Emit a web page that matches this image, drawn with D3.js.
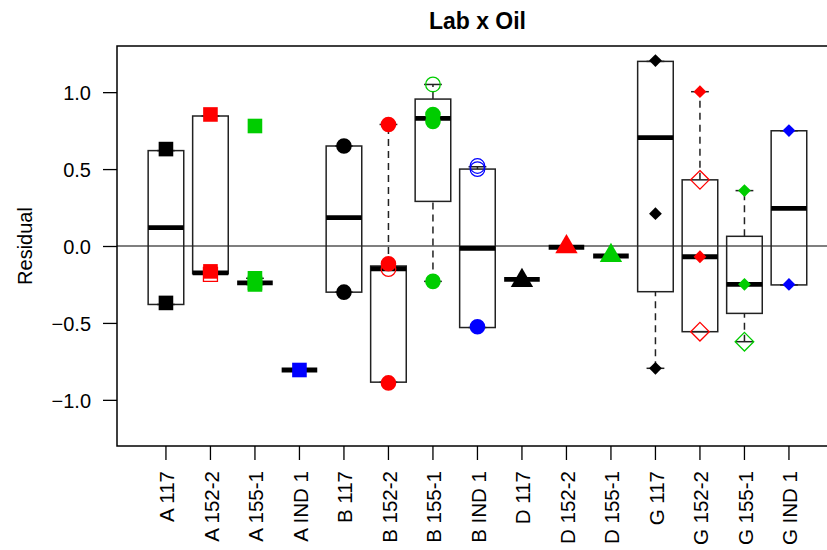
<!DOCTYPE html>
<html>
<head>
<meta charset="utf-8">
<script src="https://cdn.jsdelivr.net/npm/d3@7"></script>
<style>
  body { margin: 0; background: #fff; }
  svg { display: block; }
  text { font-family: "Liberation Sans", Arial, sans-serif; fill: #000; }
</style>
</head>
<body>
<svg id="chart" width="827" height="550"></svg>
<script>
// Lab x Oil residuals: one box per lab/oil combination, with the residuals on top.
const categories = ["A 117", "A 152-2", "A 155-1", "A IND 1",
                    "B 117", "B 152-2", "B 155-1", "B IND 1",
                    "D 117", "D 152-2", "D 155-1",
                    "G 117", "G 152-2", "G 155-1", "G IND 1"];

// Box statistics per category
const whiskerLow  = [-0.38, -0.18, -0.25, -0.806, -0.30, -0.885, -0.23, -0.53, -0.217, -0.008, -0.065, -0.795, -0.557, -0.622, -0.253];
const boxLow      = [-0.38, -0.18, -0.24, -0.806, -0.30, -0.885,  0.29, -0.53, -0.217, -0.008, -0.065, -0.297, -0.557, -0.438, -0.253];
const medians     = [ 0.12, -0.175,-0.24, -0.806,  0.185,-0.148,  0.83, -0.015,-0.217, -0.008, -0.065,  0.705, -0.07,  -0.249,  0.245];
const boxHigh     = [ 0.62,  0.845,-0.24, -0.806,  0.65, -0.13,   0.955, 0.50, -0.217, -0.008, -0.065,  1.20,   0.43,   0.063,  0.749];
const whiskerHigh = [ 0.62,  0.845,-0.21, -0.806,  0.65,  0.79,   1.05,  0.515,-0.217, -0.008, -0.065,  1.20,   1.003,  0.36,   0.749];

// Residuals drawn with filled symbols
const filledPoints = [
  [0.63, -0.37],
  [0.855, -0.165],
  [0.78, -0.21, -0.24, -0.25],
  [-0.806],
  [0.65, -0.30],
  [0.79, -0.115, -0.89],
  [0.855, 0.81, -0.23],
  [-0.525],
  [-0.225],
  [-0.006],
  [-0.062],
  [1.205, 0.21, -0.795],
  [1.003, -0.07],
  [0.36, -0.249],
  [0.75, -0.25]
];
// Residuals drawn with open symbols
const openPoints = [
  [], [-0.185], [], [],
  [], [-0.15], [1.05], [0.52, 0.50],
  [], [], [],
  [], [0.43, -0.557], [-0.622], []
];

const yTicks = [-1.0, -0.5, 0.0, 0.5, 1.0];
const labShapes = { A: "square", B: "circle", D: "triangle", G: "diamond" };
const oilColors = { "117": "#000000", "152-2": "#FF0000", "155-1": "#00CD00", "IND 1": "#0000FF" };

const svg = d3.select("#chart");
const plotLeft = 117, plotTop = 46, plotBottom = 446;
const unit = 44.5;
const plotRight = plotLeft + 16.2 * unit;

const x = d3.scaleBand().domain(categories)
  .range([plotLeft + 0.6 * unit, plotLeft + 15.6 * unit]).padding(0);
const y = d3.scaleLinear().domain([-1.3, 1.3]).range([plotBottom, plotTop]);
const cx = c => x(c) + x.bandwidth() / 2;
const boxW = 0.8 * x.bandwidth();
const stapleW = 0.5 * boxW;

// symbol shapes; "size" is used directly as a radius-like measure
const shapes = {
  square:   { draw(ctx, s) { ctx.rect(-s, -s, 2 * s, 2 * s); } },
  circle:   { draw(ctx, s) { ctx.moveTo(s, 0); ctx.arc(0, 0, s, 0, 2 * Math.PI); } },
  triangle: { draw(ctx, s) { const b = s / 2, h = Math.sqrt(3) * b;
              ctx.moveTo(0, -s); ctx.lineTo(h, b); ctx.lineTo(-h, b); ctx.closePath(); } },
  diamond:  { draw(ctx, s) { ctx.moveTo(0, -s); ctx.lineTo(s, 0); ctx.lineTo(0, s); ctx.lineTo(-s, 0); ctx.closePath(); } }
};
const filledSize = { square: 7.3, circle: 7.8, triangle: 12.9, diamond: 6.4 };
const openSize   = { square: 7.0, circle: 7.3, triangle: 12.0, diamond: 9.3 };

const lab = c => c.split(" ")[0];
const oil = c => c.slice(c.indexOf(" ") + 1);

// title
svg.append("text")
  .attr("x", (plotLeft + plotRight) / 2).attr("y", 29)
  .attr("text-anchor", "middle")
  .style("font-size", "23px").style("font-weight", "bold")
  .text("Lab x Oil");

// y axis
const yAxis = d3.axisLeft(y).tickValues(yTicks).tickFormat(d3.format(".1f"))
  .tickSize(14).tickPadding(12);
const gy = svg.append("g").attr("transform", `translate(${plotLeft},0)`).call(yAxis);
gy.select(".domain").remove();
gy.selectAll(".tick line").attr("stroke", "#000").attr("stroke-width", 1.3);
gy.selectAll(".tick text").style("font-size", "20px").attr("fill", "#000")
  .attr("dy", "0.36em");

svg.append("text")
  .attr("transform", `translate(32,${(plotTop + plotBottom) / 2}) rotate(-90)`)
  .attr("text-anchor", "middle")
  .style("font-size", "20px")
  .text("Residual");

// x axis
const xAxis = d3.axisBottom(x).tickSize(14).tickPadding(0);
const gx = svg.append("g").attr("transform", `translate(0,${plotBottom})`).call(xAxis);
gx.select(".domain").remove();
gx.selectAll(".tick line").attr("stroke", "#000").attr("stroke-width", 1.3);
gx.selectAll(".tick text")
  .style("font-size", "20.5px").attr("fill", "#000")
  .attr("text-anchor", "end")
  .attr("transform", "translate(0,25) rotate(-90)")
  .attr("x", 0).attr("y", 0).attr("dy", "0.4em");

// zero reference line
svg.append("line")
  .attr("x1", plotLeft).attr("x2", plotRight)
  .attr("y1", y(0)).attr("y2", y(0))
  .attr("stroke", "#000").attr("stroke-width", 1.2);

// boxes
const boxes = svg.append("g");
categories.forEach((c, i) => {
  const g = boxes.append("g");
  const xc = cx(c);
  // whiskers
  [[whiskerLow[i], boxLow[i]], [boxHigh[i], whiskerHigh[i]]].forEach(([a, b]) => {
    if (Math.abs(y(a) - y(b)) > 0.5) {
      g.append("line").attr("x1", xc).attr("x2", xc)
        .attr("y1", y(a)).attr("y2", y(b))
        .attr("stroke", "#222").attr("stroke-width", 1.5)
        .attr("stroke-dasharray", "7,5");
    }
  });
  // staples
  [whiskerLow[i], whiskerHigh[i]].forEach(v => {
    g.append("line").attr("x1", xc - stapleW / 2).attr("x2", xc + stapleW / 2)
      .attr("y1", y(v)).attr("y2", y(v))
      .attr("stroke", "#222").attr("stroke-width", 1.5);
  });
  // box
  g.append("rect")
    .attr("x", xc - boxW / 2).attr("width", boxW)
    .attr("y", y(boxHigh[i])).attr("height", Math.max(0, y(boxLow[i]) - y(boxHigh[i])))
    .attr("fill", "none").attr("stroke", "#222").attr("stroke-width", 1.5);
  // median
  g.append("line").attr("x1", xc - boxW / 2).attr("x2", xc + boxW / 2)
    .attr("y1", y(medians[i])).attr("y2", y(medians[i]))
    .attr("stroke", "#000").attr("stroke-width", 4.8);
});

// points
const pts = svg.append("g");
categories.forEach((c, i) => {
  const shape = labShapes[lab(c)];
  const col = oilColors[oil(c)];
  openPoints[i].forEach(v => {
    pts.append("path")
      .attr("d", d3.symbol().type(shapes[shape]).size(openSize[shape])())
      .attr("transform", `translate(${cx(c)},${y(v)})`)
      .attr("fill", "none").attr("stroke", col).attr("stroke-width", 1.3);
  });
  filledPoints[i].forEach(v => {
    pts.append("path")
      .attr("d", d3.symbol().type(shapes[shape]).size(filledSize[shape])())
      .attr("transform", `translate(${cx(c)},${y(v)})`)
      .attr("fill", col);
  });
});

// plot frame
svg.append("rect")
  .attr("x", plotLeft).attr("y", plotTop)
  .attr("width", plotRight - plotLeft).attr("height", plotBottom - plotTop)
  .attr("fill", "none").attr("stroke", "#000").attr("stroke-width", 1.5);
</script>
</body>
</html>
